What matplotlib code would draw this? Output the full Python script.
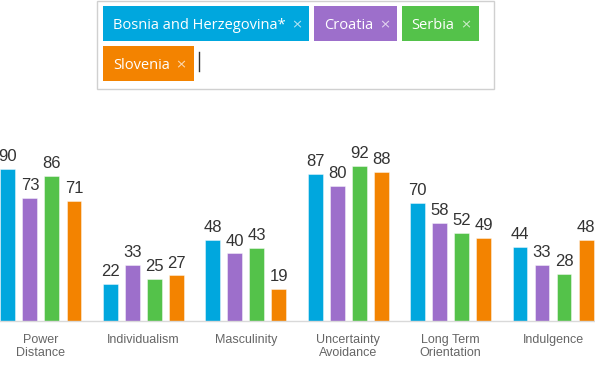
import matplotlib.pyplot as plt
from matplotlib.patches import Rectangle
from matplotlib.lines import Line2D
import numpy as np

# data
categories = ['Power\nDistance', 'Individualism', 'Masculinity',
              'Uncertainty\nAvoidance', 'Long Term\nOrientation', 'Indulgence']
countries = ['Bosnia and Herzegovina*', 'Croatia', 'Serbia', 'Slovenia']
bosnia = [90, 22, 48, 87, 70, 44]
croatia = [73, 33, 40, 80, 58, 33]
serbia = [86, 25, 43, 92, 52, 28]
slovenia = [71, 27, 19, 88, 49, 48]
colors = ['#00a7de', '#9d6fcb', '#54c24a', '#f38300']

W, H = 595, 365
fig = plt.figure(figsize=(W / 100, H / 100), dpi=100)


def fx(px):
    return px / W


def fy(py):
    return 1 - py / H


# ---- tag box on top ----
fig.add_artist(Rectangle((fx(97), fy(89)), fx(494 - 97), (89 - 1) / H,
                         transform=fig.transFigure, facecolor='white',
                         edgecolor='#d0d0d0', linewidth=1))

# chips: (x0, x1, y0, y1, text x, x-mark x)
chips = [(103, 308.5, 6, 40.5, 113, 291),
         (314, 396.5, 6, 40.5, 324, 379),
         (401.5, 479, 6, 40.5, 411.5, 460.5),
         (103, 194, 46, 80.5, 113, 175.5)]
for (x0, x1, y0, y1, tx, xx), name, c in zip(chips, countries, colors):
    fig.add_artist(Rectangle((fx(x0), fy(y1)), fx(x1 - x0), (y1 - y0) / H,
                             transform=fig.transFigure, facecolor=c,
                             edgecolor='none'))
    ym = fy((y0 + y1) / 2 + 2.5)
    fig.text(fx(tx), ym, name, color='white', fontsize=10.5,
             family='Open Sans', va='center', ha='left')
    fig.text(fx(xx), fy((y0 + y1) / 2 + 1.5), '\u00d7', color='white',
             alpha=0.7, fontsize=9.5, family='DejaVu Sans',
             va='center', ha='left')

fig.add_artist(Line2D([fx(199.5), fx(199.5)], [fy(52), fy(71)],
                      transform=fig.transFigure, color='#333333', linewidth=1))

# ---- bar chart ----
base_px = 321
top_px = 121
ax = fig.add_axes([0, fy(base_px), 1, (base_px - top_px) / H])
ax.set_ylim(0, (base_px - top_px) / 1.69)
ax.set_xlim(-0.40, 5.41)

x = np.arange(len(categories))
width = 0.146
step = 0.215
series = [bosnia, croatia, serbia, slovenia]
for i, (vals, c) in enumerate(zip(series, colors)):
    pos = x + (i - 1.5) * step
    ax.bar(pos, vals, width, color=c, edgecolor=(1, 1, 1, 0.5), linewidth=0.6)
    for p, v in zip(pos, vals):
        ax.annotate(str(v), (p, v), xytext=(0, 3.5), textcoords='offset points',
                    ha='center', va='bottom', fontsize=12, color='#333333',
                    family='Liberation Sans')

ax.set_xticks(x)
ax.set_xticklabels(categories, fontsize=9, color='#666666',
                   family='Liberation Sans', linespacing=1.1)
ax.tick_params(axis='x', length=0, pad=9.5)
ax.set_yticks([])
for s in ['top', 'left', 'right']:
    ax.spines[s].set_visible(False)
ax.spines['bottom'].set_color('#d9d9d9')
ax.spines['bottom'].set_linewidth(1)
ax.patch.set_visible(False)

fig.savefig('out.png', dpi=100)
